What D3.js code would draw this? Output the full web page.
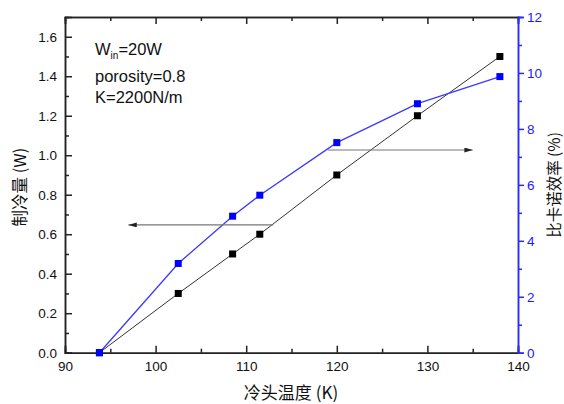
<!DOCTYPE html>
<html><head><meta charset="utf-8">
<script src="https://cdn.jsdelivr.net/npm/d3@7"></script>
<style>body{margin:0;background:#fff}svg{display:block}</style>
</head><body>
<script>
const temps = [93.8, 102.5, 108.5, 111.5, 120, 128.9, 138];
const coolingPower = [0, 0.3, 0.5, 0.6, 0.9, 1.2, 1.5];
const carnotEff = [0, 3.19, 4.88, 5.63, 7.51, 8.9, 9.87];
const xTicks = [90, 100, 110, 120, 130, 140];
const yLeftTicks = [0, 0.2, 0.4, 0.6, 0.8, 1.0, 1.2, 1.4, 1.6];
const yRightTicks = [0, 2, 4, 6, 8, 10, 12];

const W = 564, H = 404;
const m = {l: 65, r: 518, t: 17, b: 352.7};
const svg = d3.select("body").append("svg").attr("width", W).attr("height", H);
const x = d3.scaleLinear().domain([90, 140]).range([m.l, m.r]);
const yL = d3.scaleLinear().domain([0, 1.7]).range([m.b, m.t]);
const yR = d3.scaleLinear().domain([0, 12]).range([m.b, m.t]);
const font = "Liberation Sans, Arial, sans-serif";
const cjk = "Noto Sans CJK SC, sans-serif";

// bottom axis (ticks inward)
const bx = svg.append("g").attr("transform", `translate(0,${m.b})`)
  .call(d3.axisBottom(x).tickValues(xTicks).tickSize(-7).tickPadding(9).tickFormat(d3.format("d")));
bx.append("g").call(d3.axisBottom(x).tickValues(d3.range(95, 140, 10)).tickSize(-4).tickFormat(""));
// top axis
const tx = svg.append("g").attr("transform", `translate(0,${m.t})`)
  .call(d3.axisTop(x).tickValues(xTicks).tickSize(-7).tickFormat(""));
tx.append("g").call(d3.axisTop(x).tickValues(d3.range(95, 140, 10)).tickSize(-4).tickFormat(""));
// left axis
const lx = svg.append("g").attr("transform", `translate(${m.l},0)`)
  .call(d3.axisLeft(yL).tickValues(yLeftTicks).tickSize(-7).tickPadding(8).tickFormat(d3.format(".1f")));
lx.append("g").call(d3.axisLeft(yL).tickValues(d3.range(0.1, 1.7, 0.2)).tickSize(-4).tickFormat(""));
// right axis (blue, ticks outward)
const rx = svg.append("g").attr("transform", `translate(${m.r},0)`)
  .call(d3.axisRight(yR).tickValues(yRightTicks).tickSize(6).tickPadding(3).tickFormat(d3.format("d")));
rx.append("g").call(d3.axisRight(yR).tickValues(d3.range(1, 12, 2)).tickSize(4).tickFormat(""));

[bx, tx, lx].forEach(g => {
  g.selectAll("path,line").attr("stroke", "#222").attr("stroke-width", 1.5);
  g.selectAll("text").attr("font-family", font).attr("font-size", 13.5).attr("fill", "#111");
});
rx.selectAll("path,line").attr("stroke", "#2b2bff").attr("stroke-width", 1.5);
rx.selectAll("text").attr("font-family", font).attr("font-size", 13.5).attr("fill", "#1a1aff");
svg.selectAll(".domain").attr("stroke-width", 1.5);
lx.selectAll(".tick text").attr("dy", "0.35em");

// data lines
const lineK = d3.line().x((d, i) => x(temps[i])).y(d => yL(d));
const lineB = d3.line().x((d, i) => x(temps[i])).y(d => yR(d));
svg.append("path").attr("d", lineK(coolingPower)).attr("fill", "none").attr("stroke", "#333").attr("stroke-width", 1);
svg.append("path").attr("d", lineB(carnotEff)).attr("fill", "none").attr("stroke", "#3a3aff").attr("stroke-width", 1.3);
const s = 7;
svg.append("g").selectAll("rect").data(coolingPower).join("rect")
  .attr("x", (d, i) => x(temps[i]) - s/2).attr("y", d => yL(d) - s/2)
  .attr("width", s).attr("height", s).attr("fill", "#000");
svg.append("g").selectAll("rect").data(carnotEff).join("rect")
  .attr("x", (d, i) => x(temps[i]) - s/2).attr("y", d => yR(d) - s/2)
  .attr("width", s).attr("height", s).attr("fill", "#0000ff");

// arrows
const defs = svg.append("defs");
defs.append("marker").attr("id", "ah").attr("viewBox", "0 0 10 6").attr("refX", 10).attr("refY", 3)
  .attr("markerWidth", 10).attr("markerHeight", 5).attr("markerUnits", "userSpaceOnUse").attr("orient", "auto")
  .append("path").attr("d", "M0,0 L10,3 L0,6 Z").attr("fill", "#222");
svg.append("line").attr("x1", x(113)).attr("x2", x(97)).attr("y1", yL(0.6) - 9.3).attr("y2", yL(0.6) - 9.3)
  .attr("stroke", "#777").attr("stroke-width", 1.2).attr("marker-end", "url(#ah)");
svg.append("line").attr("x1", x(119)).attr("x2", x(135)).attr("y1", 150).attr("y2", 150)
  .attr("stroke", "#777").attr("stroke-width", 1.2).attr("marker-end", "url(#ah)");

// annotation text
const ann = svg.append("g").attr("font-family", font).attr("font-size", 16.5).attr("fill", "#111");
const t1 = ann.append("text").attr("x", 95).attr("y", 55);
t1.append("tspan").text("W");
t1.append("tspan").attr("font-size", 10).attr("dy", 4).text("in");
t1.append("tspan").attr("dy", -4).text("=20W");
ann.append("text").attr("x", 95).attr("y", 82).text("porosity=0.8");
ann.append("text").attr("x", 95).attr("y", 103).text("K=2200N/m");

// axis titles
svg.append("text").attr("x", 291).attr("y", 399).attr("text-anchor", "middle")
  .attr("font-family", cjk).attr("font-size", 17).attr("fill", "#111")
  .text("冷头温度 (K)");
svg.append("text").attr("transform", "translate(26,187) rotate(-90)").attr("text-anchor", "middle")
  .attr("font-family", cjk).attr("font-size", 16.5).attr("fill", "#111")
  .text("制冷量 (W)");
svg.append("text").attr("transform", "translate(560,185) rotate(-90)").attr("text-anchor", "middle")
  .attr("font-family", cjk).attr("font-size", 15.5).attr("fill", "#111")
  .text("比卡诺效率 (%)");
</script>
</body></html>
